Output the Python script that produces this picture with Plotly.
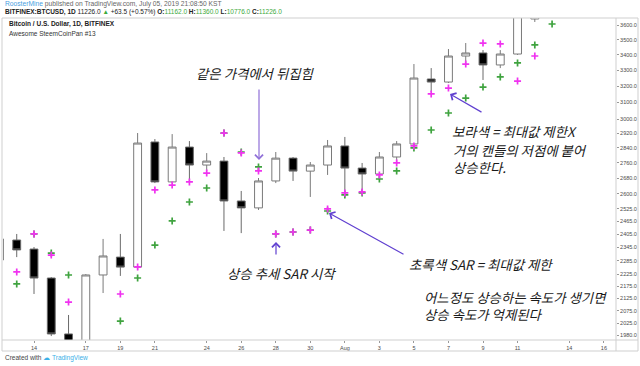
import plotly.graph_objects as go

# ---------------- data ----------------
dates = ["2019-07-12", "2019-07-13", "2019-07-14", "2019-07-15", "2019-07-16", "2019-07-17",
         "2019-07-18", "2019-07-19", "2019-07-20", "2019-07-21", "2019-07-22", "2019-07-23",
         "2019-07-24", "2019-07-25", "2019-07-26", "2019-07-27", "2019-07-28", "2019-07-29",
         "2019-07-30", "2019-07-31", "2019-08-01", "2019-08-02", "2019-08-03", "2019-08-04",
         "2019-08-05", "2019-08-06", "2019-08-07", "2019-08-08", "2019-08-09", "2019-08-10",
         "2019-08-11", "2019-08-12"]
opens = [2288, 2378, 2337, 2210, 1984, 1887, 2223, 2301, 2257, 2873, 2660, 2845, 2748, 2769, 2564, 2530,
         2665, 2785, 2716, 2748, 2851, 2732, 2701, 2791, 2862, 3244, 3225, 3391, 3411, 3333, 3404, 3642]
highs = [2397, 2406, 2346, 2214, 2058, 2227, 2383, 2406, 2923, 2889, 2917, 2878, 2812, 2791, 2614, 2680,
         2818, 2791, 2764, 2884, 2901, 2759, 2818, 2878, 3339, 3313, 3437, 3477, 3430, 3430, 3720, 3740]
lows = [2279, 2301, 2143, 1976, 1887, 1869, 2147, 2219, 2244, 2654, 2654, 2660, 2716, 2420, 2410, 2520,
        2654, 2665, 2584, 2696, 2604, 2609, 2696, 2759, 2840, 3164, 3219, 3333, 3238, 3313, 3398, 3621]
closes = [2383, 2333, 2210, 1984, 1924, 2223, 2306, 2257, 2867, 2660, 2845, 2748, 2769, 2564, 2530, 2665,
          2785, 2716, 2748, 2851, 2732, 2701, 2791, 2862, 3250, 3225, 3391, 3411, 3333, 3404, 3680, 3690]

sar_dates = ["2019-07-13", "2019-07-14", "2019-07-15", "2019-07-16", "2019-07-17", "2019-07-18",
             "2019-07-19", "2019-07-20", "2019-07-21", "2019-07-22", "2019-07-23", "2019-07-24",
             "2019-07-25", "2019-07-26", "2019-07-27", "2019-07-28", "2019-07-29", "2019-07-30",
             "2019-07-31", "2019-08-01", "2019-08-02", "2019-08-03", "2019-08-04", "2019-08-05",
             "2019-08-06", "2019-08-07", "2019-08-08", "2019-08-09", "2019-08-10", "2019-08-11",
             "2019-08-12", "2019-08-13"]
sar_green = [2185, 2406, 2319, 2223, None, None, 2034, 2210, 2355, 2467, 2559, 2629, 2923, 2818, 2738, 2406,
             2415, 2424, 2515, 2594, 2604, 2675, 2717, 2840, 2940, 3038, 3127, 3194, 3257, 3346, 3464, 3607]
sar_purple = [2236, 2406, 2310, 2110, None, None, 2143, 2258, 2619, 2644, 2660, 2706, 2923, 2813, 2717, 2406,
              2415, 2424, 2525, 2604, 2609, 2696, 2759, 2851, 3152, 3188, 3339, 3477, 3471, 3231, 3391, None]

y_tick_vals = [3600, 3500, 3400, 3300, 3200, 3100, 3000, 2920, 2840, 2760, 2680, 2600, 2525, 2465,
               2405, 2345, 2285, 2225, 2175, 2125, 2075, 2025, 1980]
y_tick_text = ["%.1f" % v for v in y_tick_vals]
x_tick_dates = ["2019-07-14", "2019-07-17", "2019-07-19", "2019-07-21", "2019-07-24", "2019-07-26",
                "2019-07-28", "2019-07-30", "2019-08-01", "2019-08-03", "2019-08-05", "2019-08-07",
                "2019-08-09", "2019-08-11", "2019-08-14", "2019-08-16"]
x_tick_text = ["14", "17", "19", "21", "24", "26", "28", "30", "Aug", "3", "5", "7", "9", "11", "14", "16"]

# ---------------- layout helpers (pixel -> paper) ----------------
W, H = 640, 366
L, R, T, B = 3, 24, 18, 26
PW, PH = W - L - R, H - T - B


def px(x):
    return (x - L) / PW


def py(y):
    return (H - B - y) / PH


fig = go.Figure()
fig.add_trace(go.Candlestick(
    x=dates, open=opens, high=highs, low=lows, close=closes,
    increasing=dict(line=dict(color="#7a7a7a", width=1), fillcolor="#ffffff"),
    decreasing=dict(line=dict(color="#6a6a6a", width=1), fillcolor="#000000"),
    whiskerwidth=0, showlegend=False, hoverinfo="skip"))
fig.add_trace(go.Scatter(
    x=sar_dates, y=sar_green, mode="markers",
    marker=dict(symbol="cross-thin", size=5, line=dict(width=1.7, color="#3fa33f")),
    showlegend=False, hoverinfo="skip"))
fig.add_trace(go.Scatter(
    x=sar_dates, y=sar_purple, mode="markers",
    marker=dict(symbol="cross-thin", size=5, line=dict(width=1.7, color="#f032f0")),
    showlegend=False, hoverinfo="skip"))

tick_font = dict(family="Liberation Sans, Arial, sans-serif", size=5.5, color="#4a4a4a")
fig.update_layout(
    width=W, height=H,
    margin=dict(l=L, r=R, t=T, b=B),
    paper_bgcolor="white", plot_bgcolor="white",
    boxgap=0.35,
    xaxis=dict(type="date", range=["2019-07-12 04:55", "2019-08-16 16:50"],
               tickvals=x_tick_dates, ticktext=x_tick_text, tickfont=tick_font,
               showgrid=False, zeroline=False, ticks="outside", ticklen=2, tickcolor="#999",
               rangeslider=dict(visible=False), showline=False, fixedrange=True),
    yaxis=dict(type="log", range=[3.29248, 3.56217], side="right",
               tickvals=y_tick_vals, ticktext=y_tick_text, tickfont=tick_font,
               showgrid=False, zeroline=False, ticks="outside", ticklen=2, tickcolor="#999",
               showline=False, fixedrange=True),
)

# frame lines
frame_col = "#cfcfcf"
shapes = [
    dict(type="rect", xref="paper", yref="paper", x0=px(2), x1=px(638), y0=py(351), y1=py(18),
         line=dict(color=frame_col, width=1)),
    dict(type="line", xref="paper", yref="paper", x0=px(2), x1=px(638), y0=py(340), y1=py(340),
         line=dict(color=frame_col, width=1)),
    dict(type="line", xref="paper", yref="paper", x0=px(616), x1=px(616), y0=py(351), y1=py(18),
         line=dict(color=frame_col, width=1)),
]
fig.update_layout(shapes=shapes)

ann = []
small = "Liberation Sans, Arial, sans-serif"
# header
ann.append(dict(x=px(3), y=py(4), xref="paper", yref="paper", xanchor="left", yanchor="middle",
                showarrow=False, font=dict(family=small, size=6.7, color="#666"),
                text="<span style='color:#4a9ee0'>RoosterMine</span> published on TradingView.com, July 05, 2019 21:08:50 KST"))
g = "#3caa3c"
ann.append(dict(x=px(3), y=py(12), xref="paper", yref="paper", xanchor="left", yanchor="middle",
                showarrow=False, font=dict(family=small, size=6.5, color="#222"),
                text=("<b>BITFINEX:BTCUSD, 1D</b> 11226.0 <span style='color:%s'>▲</span> +63.5 (+0.57%%) "
                      "<b>O:</b><span style='color:%s'>11162.0</span> <b>H:</b><span style='color:%s'>11360.0</span> "
                      "<b>L:</b><span style='color:%s'>10776.0</span> <b>C:</b><span style='color:%s'>11226.0</span>")
                % (g, g, g, g, g)))
# symbol legend
ann.append(dict(x=px(7), y=py(24), xref="paper", yref="paper", xanchor="left", yanchor="middle",
                showarrow=False, font=dict(family=small, size=6.5, color="#222"),
                text="<b>Bitcoin / U.S. Dollar, 1D, BITFINEX</b>"))
ann.append(dict(x=px(7), y=py(33), xref="paper", yref="paper", xanchor="left", yanchor="middle",
                showarrow=False, font=dict(family=small, size=6.5, color="#333"),
                text="Awesome SteemCoinPan #13"))
# footer
ann.append(dict(x=px(3), y=py(358), xref="paper", yref="paper", xanchor="left", yanchor="middle",
                showarrow=False, font=dict(family=small, size=6.5, color="#444"),
                text="Created with <span style='color:#3bb0e8'>☁ TradingView</span>"))

kfont = dict(family="Noto Sans CJK KR, sans-serif", size=13.4, color="#1a1a1a")


def ktext(x, y, t, anchor="left"):
    ann.append(dict(x=px(x), y=py(y), xref="paper", yref="paper", xanchor=anchor, yanchor="middle",
                    align="left", showarrow=False, font=kfont, text="<i>%s</i>" % t))


ktext(255, 73, "같은 가격에서 뒤집힘", "center")
ktext(225, 273, "상승 추세 SAR 시작")
ktext(407, 264, "초록색 SAR = 최대값 제한")
ktext(422, 305, "어느정도 상승하는 속도가 생기면<br>상승 속도가 억제된다")
ktext(450, 131, "보라색 = 최대값 제한X")
ktext(451, 158, "거의 캔들의 저점에 붙어<br>상승한다.")


def arrow(x_tip, y_tip, x_tail, y_tail, color):
    ann.append(dict(x=px(x_tip), y=py(y_tip), xref="paper", yref="paper",
                    ax=x_tail - x_tip, ay=y_tail - y_tip, axref="pixel", ayref="pixel",
                    showarrow=True, arrowhead=4, arrowsize=1.3, arrowwidth=1.2,
                    arrowcolor=color, text=""))


arrow(259, 160, 259, 88, "#9070d8")
arrow(276, 242, 276, 256, "#6040d0")
arrow(329, 213, 405, 255, "#6040d0")
arrow(450, 94, 483, 113, "#6040d0")

fig.update_layout(annotations=ann)
fig.write_html("out.html", config={"displayModeBar": False},
               post_script="document.body.style.margin='0';document.body.style.padding='0';")
